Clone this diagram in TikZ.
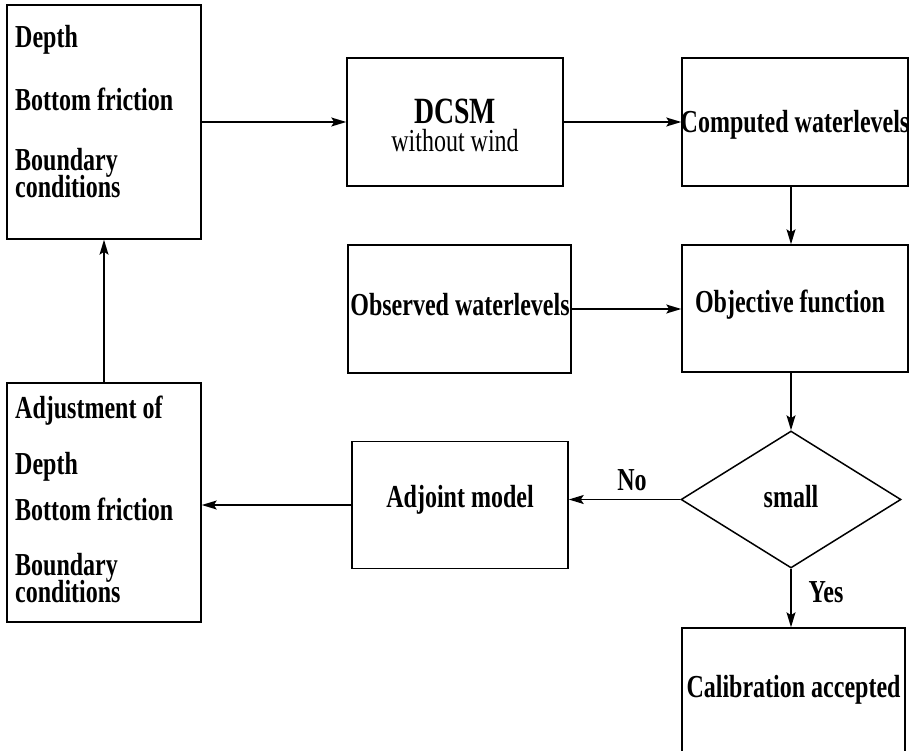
\documentclass[tikz,border=0pt]{standalone}
\usepackage{fontspec}
\setmainfont{Liberation Serif}[FakeStretch=0.75]
\usetikzlibrary{arrows.meta,shapes.geometric}
\begin{document}
\begin{tikzpicture}[x=1pt,y=-1pt,
  box/.style={draw,line width=1.5pt,inner sep=0pt},
  arr/.style={line width=1.5pt,-{Stealth[length=15pt,width=9pt,inset=3pt]}},
  lbl/.style={font=\fontsize{32}{27}\selectfont\bfseries,inner sep=0pt},
  lft/.style={lbl,anchor=base west,align=left}]
\useasboundingbox (0,0) rectangle (915,751);
\clip (0,0) rectangle (915,751);

% boxes
\node[box,minimum width=194pt,minimum height=234pt] (in) at (104,122) {};
\node[box,minimum width=216pt,minimum height=128pt] (dcsm) at (455,122) {};
\node[box,minimum width=226pt,minimum height=128pt] (comp) at (795,122) {};
\node[box,minimum width=223pt,minimum height=128pt] (obs) at (459.5,309) {};
\node[box,minimum width=226pt,minimum height=127pt] (obj) at (795,308.5) {};
\node[box,diamond,minimum width=220pt,minimum height=137pt] (dia) at (791,499.5) {};
\node[box,minimum width=216pt,minimum height=127pt] (adj) at (460,505) {};
\node[box,minimum width=194pt,minimum height=239pt] (adjust) at (104,502.5) {};
\node[box,minimum width=223pt,minimum height=150pt] (cal) at (793.5,703) {};

% texts of the input box
\node[lft] (t1) at (15,48) {Depth};
\node[lft] (t2) at (15,111) {Bottom friction};
\node[lft,anchor=north west] (t3) at (15,148) {Boundary\\[-3pt]conditions};

% model and results
\node[lbl,align=center,font=\fontsize{37}{37}\selectfont\bfseries] (t5) at (455,125)
  {DCSM\\[-9pt]{\fontsize{32}{32}\selectfont\mdseries without wind}};
\node[lbl] (t7) at (795,125) {Computed waterlevels};
\node[lbl] (t8) at (460,305) {Observed waterlevels};
\node[lbl] (t9) at (790,305) {Objective function};
\node[lbl] (t10) at (791,497) {small};
\node[lbl] (t11) at (460,500) {Adjoint model};
\node[lbl] (t12) at (793.5,690) {Calibration accepted};

% texts of the adjustment box
\node[lft] (t13) at (15,418) {Adjustment of};
\node[lft] (t14) at (15,474) {Depth};
\node[lft] (t15) at (15,520) {Bottom friction};
\node[lft,anchor=north west] (t16) at (15,553) {Boundary\\[-3pt]conditions};

% branch labels
\node[lbl] (no) at (632,480) {No};
\node[lbl] (yes) at (826,592) {Yes};

% connectors
\draw[arr] (in) -- (dcsm);
\draw[arr] (dcsm) -- (comp);
\draw[arr] (comp.south -| dia.north) -- (obj.north -| dia.north);
\draw[arr] (obs.east) -- (obj.west |- obs.east);
\draw[arr] (obj.south -| dia.north) -- (dia.north);
\draw[arr] (dia.west) -- (adj.east |- dia.west);
\draw[arr] (adj.west) -- (adjust.east |- adj.west);
\draw[arr] (adjust.north) -- (in.south);
\draw[arr] (dia.south) -- (cal.north -| dia.south);
\end{tikzpicture}
\end{document}
